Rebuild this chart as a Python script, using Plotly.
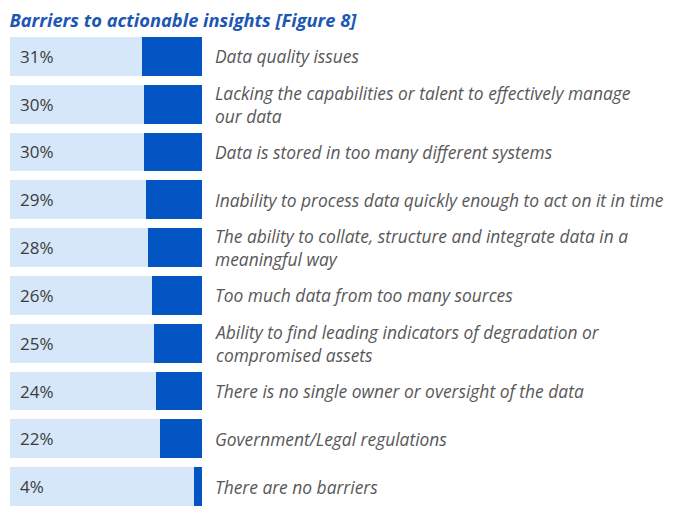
import plotly.graph_objects as go

labels = [
    "Data quality issues",
    "Lacking the capabilities or talent to effectively manage<br>our data",
    "Data is stored in too many different systems",
    "Inability to process data quickly enough to act on it in time",
    "The ability to collate, structure and integrate data in a<br>meaningful way",
    "Too much data from too many sources",
    "Ability to find leading indicators of degradation or<br>compromised assets",
    "There is no single owner or oversight of the data",
    "Government/Legal regulations",
    "There are no barriers",
]
values = [31, 30, 30, 29, 28, 26, 25, 24, 22, 4]

rows = list(range(len(values)))
rest = [100 - v for v in values]

fig = go.Figure()
fig.add_trace(go.Bar(x=rest, y=rows, orientation="h",
                     marker=dict(color="#d5e7f8", line=dict(width=0)),
                     hoverinfo="skip"))
fig.add_trace(go.Bar(x=values, y=rows, orientation="h",
                     marker=dict(color="#0455c4", line=dict(width=0)),
                     hoverinfo="skip"))

for r, v, lab in zip(rows, values, labels):
    fig.add_annotation(x=0, y=r, xref="x", yref="y", text=f"{v}%",
                       showarrow=False, xanchor="left", xshift=8,
                       font=dict(family="Open Sans", size=17, color="#3c3c3c"))
    fig.add_annotation(x=0, y=r, xref="paper", yref="y",
                       text="<i>" + lab.replace("<br>", "</i><br><i>") + "</i>",
                       showarrow=False, xanchor="left", yanchor="middle",
                       align="left", xshift=203,
                       font=dict(family="Open Sans", size=17.4, color="#585858"))

fig.update_layout(
    width=696, height=513,
    margin=dict(l=2, r=0, t=29, b=15),
    barmode="stack", bargap=0.19, showlegend=False,
    plot_bgcolor="white", paper_bgcolor="white",
    title=dict(text="<b><i>Barriers to actionable insights [Figure 8]</i></b>",
               x=0.002, xanchor="left", y=1 - 13 / 513, yanchor="middle",
               font=dict(family="Open Sans", size=18.3, color="#1c57b4")),
    xaxis=dict(range=[0, 100], domain=[0, 192 / 694], visible=False, fixedrange=True),
    yaxis=dict(range=[9.405, -0.405], visible=False, fixedrange=True),
)

fig.write_html("out.html")
